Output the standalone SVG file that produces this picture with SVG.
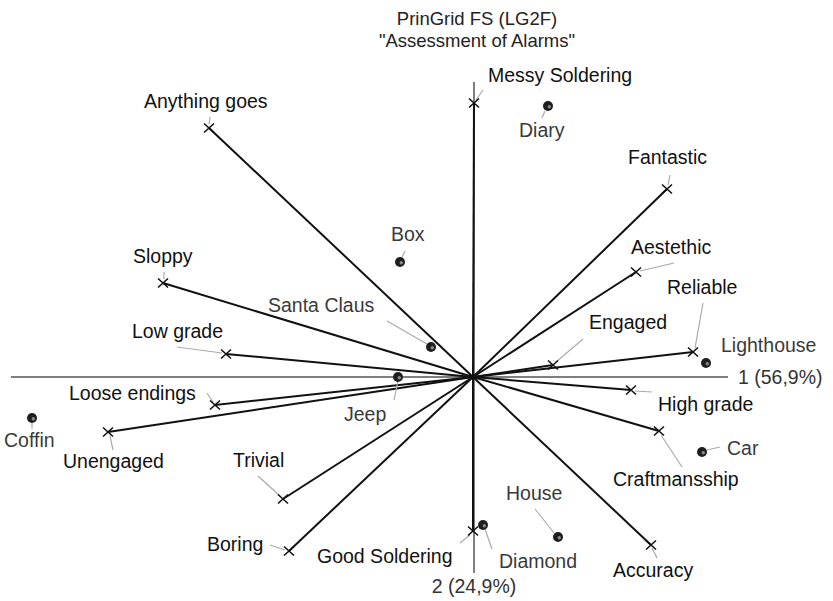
<svg xmlns="http://www.w3.org/2000/svg" width="833" height="601" viewBox="0 0 833 601">
  <style>
    text { font-family: "Liberation Sans", Arial, sans-serif; font-size: 19.5px; }
    .title { fill: #222; font-size: 18.5px; text-anchor: middle; }
    .con { fill: #111; }
    .el { fill: #3a3a3a; }
    .axl { fill: #333; }
    .axis { stroke: #555; stroke-width: 1.5; fill: none; }
    .vec { stroke: #111; stroke-width: 2; fill: none; }
    .lead { stroke: #aaa; stroke-width: 1.2; fill: none; }
    .mark { stroke: #111; stroke-width: 1.6; fill: none; }
  </style>
  <defs>
    <g id="x">
      <path class="mark" d="M-5,-4.5 L5,4.5 M-5,4.5 L5,-4.5"/>
    </g>
    <g id="dot">
      <circle r="5" fill="#1e1e1e"/>
      <circle cx="1.3" cy="0.7" r="1.7" fill="#8a8a8a"/>
    </g>
  </defs>

  <!-- title -->
  <text class="title" x="477" y="25">PrinGrid FS (LG2F)</text>
  <text class="title" x="477" y="47">"Assessment of Alarms"</text>

  <!-- axes -->
  <g id="axes">
    <line class="axis" x1="11" y1="377" x2="728" y2="377"/>
    <line class="axis" x1="474" y1="82" x2="474" y2="573"/>
    <text class="axl" x="738" y="384">1 (56,9%)</text>
    <text class="axl" x="474" y="593" text-anchor="middle">2 (24,9%)</text>
  </g>

  <!-- construct vectors -->
  <g id="connectors">
    <line class="vec" x1="473" y1="377" x2="474" y2="103"/>
    <line class="vec" x1="473" y1="377" x2="209" y2="128"/>
    <line class="vec" x1="473" y1="377" x2="667" y2="189"/>
    <line class="vec" x1="473" y1="377" x2="636" y2="272"/>
    <line class="vec" x1="473" y1="377" x2="163" y2="283"/>
    <line class="vec" x1="473" y1="377" x2="226" y2="354"/>
    <line class="vec" x1="473" y1="377" x2="693" y2="352"/>
    <line class="vec" x1="473" y1="377" x2="553" y2="365"/>
    <line class="vec" x1="473" y1="377" x2="631" y2="390"/>
    <line class="vec" x1="473" y1="377" x2="659" y2="431"/>
    <line class="vec" x1="473" y1="377" x2="651" y2="545"/>
    <line class="vec" x1="473" y1="377" x2="473" y2="531"/>
    <line class="vec" x1="473" y1="377" x2="289" y2="551"/>
    <line class="vec" x1="473" y1="377" x2="283" y2="499"/>
    <line class="vec" x1="473" y1="377" x2="108" y2="432"/>
    <line class="vec" x1="473" y1="377" x2="215" y2="405"/>

    <!-- label leaders -->
    <line class="lead" x1="483" y1="90" x2="476" y2="100"/>
    <line class="lead" x1="210" y1="117" x2="209" y2="124"/>
    <line class="lead" x1="670" y1="175" x2="668" y2="185"/>
    <line class="lead" x1="674" y1="263" x2="640" y2="271"/>
    <line class="lead" x1="164" y1="272" x2="164" y2="279"/>
    <line class="lead" x1="177" y1="347" x2="222" y2="353"/>
    <line class="lead" x1="703" y1="303" x2="695" y2="348"/>
    <line class="lead" x1="583" y1="339" x2="556" y2="362"/>
    <line class="lead" x1="635" y1="391" x2="652" y2="392"/>
    <line class="lead" x1="661" y1="435" x2="682" y2="467"/>
    <line class="lead" x1="652" y1="548" x2="657" y2="558"/>
    <line class="lead" x1="460" y1="543" x2="470" y2="535"/>
    <line class="lead" x1="270" y1="545" x2="285" y2="550"/>
    <line class="lead" x1="258" y1="476" x2="280" y2="496"/>
    <line class="lead" x1="110" y1="436" x2="113" y2="450"/>
    <line class="lead" x1="207" y1="393" x2="213" y2="402"/>

    <line class="lead" x1="545" y1="111" x2="542" y2="118"/>
    <line class="lead" x1="405" y1="251" x2="402" y2="257"/>
    <line class="lead" x1="387" y1="321" x2="427" y2="344"/>
    <line class="lead" x1="394" y1="400" x2="398" y2="381"/>
    <line class="lead" x1="32" y1="423" x2="32" y2="429"/>
    <line class="lead" x1="707" y1="450" x2="720" y2="447"/>
    <line class="lead" x1="535" y1="509" x2="554" y2="533"/>
    <line class="lead" x1="492" y1="549" x2="485" y2="529"/>
  </g>

  <!-- constructs -->
  <g id="messy-soldering"><use href="#x" x="474" y="103"/><text class="con" x="488" y="82">Messy Soldering</text></g>
  <g id="anything-goes"><use href="#x" x="209" y="128"/><text class="con" x="144" y="108">Anything goes</text></g>
  <g id="fantastic"><use href="#x" x="667" y="189"/><text class="con" x="628" y="164">Fantastic</text></g>
  <g id="aestethic"><use href="#x" x="636" y="272"/><text class="con" x="631" y="254">Aestethic</text></g>
  <g id="sloppy"><use href="#x" x="163" y="283"/><text class="con" x="133" y="263">Sloppy</text></g>
  <g id="low-grade"><use href="#x" x="226" y="354"/><text class="con" x="132" y="338">Low grade</text></g>
  <g id="reliable"><use href="#x" x="693" y="352"/><text class="con" x="667" y="294">Reliable</text></g>
  <g id="engaged"><use href="#x" x="553" y="365"/><text class="con" x="589" y="329">Engaged</text></g>
  <g id="high-grade"><use href="#x" x="631" y="390"/><text class="con" x="658" y="411">High grade</text></g>
  <g id="craftmansship"><use href="#x" x="659" y="431"/><text class="con" x="613" y="486">Craftmansship</text></g>
  <g id="accuracy"><use href="#x" x="651" y="545"/><text class="con" x="613" y="577">Accuracy</text></g>
  <g id="good-soldering"><use href="#x" x="473" y="531"/><text class="con" x="317" y="563">Good Soldering</text></g>
  <g id="boring"><use href="#x" x="289" y="551"/><text class="con" x="207" y="551">Boring</text></g>
  <g id="trivial"><use href="#x" x="283" y="499"/><text class="con" x="233" y="467">Trivial</text></g>
  <g id="unengaged"><use href="#x" x="108" y="432"/><text class="con" x="63" y="468">Unengaged</text></g>
  <g id="loose-endings"><use href="#x" x="215" y="405"/><text class="con" x="69" y="400">Loose endings</text></g>

  <!-- elements -->
  <g id="diary"><use href="#dot" x="548" y="106"/><text class="el" x="519" y="137">Diary</text></g>
  <g id="box"><use href="#dot" x="400" y="262"/><text class="el" x="391" y="241">Box</text></g>
  <g id="santa-claus"><use href="#dot" x="431" y="347"/><text class="el" x="268" y="312">Santa Claus</text></g>
  <g id="jeep"><use href="#dot" x="398" y="377"/><text class="el" x="344" y="421">Jeep</text></g>
  <g id="coffin"><use href="#dot" x="32" y="418"/><text class="el" x="4" y="447">Coffin</text></g>
  <g id="lighthouse"><use href="#dot" x="706" y="363"/><text class="el" x="721" y="352">Lighthouse</text></g>
  <g id="car"><use href="#dot" x="702" y="452"/><text class="el" x="727" y="455">Car</text></g>
  <g id="house"><use href="#dot" x="558" y="537"/><text class="el" x="506" y="500">House</text></g>
  <g id="diamond"><use href="#dot" x="483" y="525"/><text class="el" x="499" y="568">Diamond</text></g>
</svg>
